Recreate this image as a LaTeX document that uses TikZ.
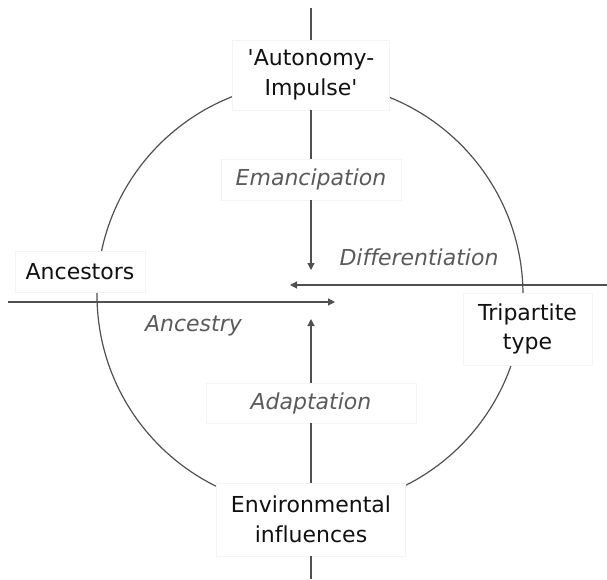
\documentclass[tikz,border=0pt]{standalone}
\usepackage{fontspec}
\setmainfont{DejaVu Sans}[Ligatures={TeXOff,NoCommon}]
\usepackage{xcolor}
\definecolor{cLine}{HTML}{505050}
\definecolor{cText}{HTML}{111111}
\definecolor{cLabel}{HTML}{5A5A5A}
\definecolor{cEdge}{HTML}{F4F4F4}
\usetikzlibrary{arrows.meta}
\tikzset{
  node-box/.style={fill=white,draw=cEdge,inner sep=0pt,align=center,
    text=cText,font=\fontsize{22}{29.5}\selectfont},
  node-label/.style={fill=white,draw=cEdge,inner sep=0pt,align=center,
    text=cLabel,font=\fontsize{22}{26}\selectfont\itshape},
  node-text/.style={inner sep=0pt,text=cLabel,
    font=\fontsize{22}{26}\selectfont\itshape},
  link/.style={draw=cLine,line width=1.2pt},
  arrow/.style={link,-{Triangle[length=7pt,width=7pt]}},
}

\begin{document}
\begin{tikzpicture}[x=1pt,y=-1pt]
  \useasboundingbox (0,0) rectangle (607,580);
  % the cycle
  \draw[link] (310,295) circle (213pt);
  % poles
  \node[node-box,minimum width=157pt,minimum height=70pt] (auto) at (311,75) {'Autonomy-\\Impulse'};
  \node[node-box,minimum width=130pt,minimum height=41pt] (anc) at (80,271.5) {Ancestors};
  \node[node-box,minimum width=129pt,minimum height=72pt] (tri) at (527.5,329) {Tripartite\\type};
  \node[node-box,minimum width=189pt,minimum height=73pt] (env) at (311,519.5) {Environmental\\influences};
  % processes
  \node[node-label,minimum width=180pt,minimum height=41pt] (eman) at (311,179.5) {Emancipation};
  \node[node-label,minimum width=210pt,minimum height=40pt] (adapt) at (311,403) {Adaptation};
  \node[node-text] (diff) at (419,257) {Differentiation};
  \node[node-text] (ances) at (193.5,326) {Ancestry};
  % free ends
  \coordinate (top) at (311,8);
  \coordinate (bot) at (311,579);
  \coordinate (east) at (607,285);
  \coordinate (west) at (8,302);
  \coordinate (tip-down) at (311,270);
  \coordinate (tip-up) at (311,319);
  \coordinate (tip-left) at (290,285);
  \coordinate (tip-right) at (335,302);
  % axes
  \draw[link] (top) -- (auto);
  \draw[link] (auto) -- (eman);
  \draw[arrow] (eman) -- (tip-down);
  \draw[link] (env) -- (adapt);
  \draw[arrow] (adapt) -- (tip-up);
  \draw[link] (env) -- (bot);
  \draw[arrow] (east) -- (tip-left);
  \draw[arrow] (west) -- (tip-right);
\end{tikzpicture}
\end{document}
